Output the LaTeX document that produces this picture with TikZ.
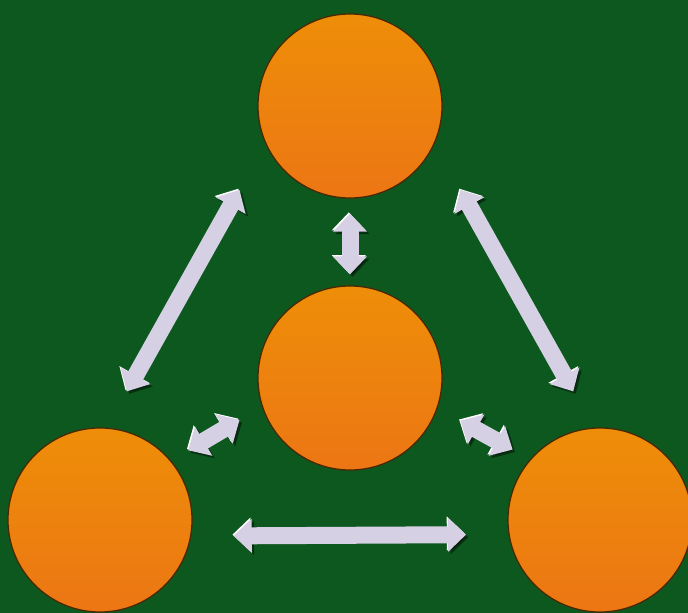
\documentclass[tikz,border=0pt]{standalone}
\usepackage{tikz}
\usetikzlibrary{
  arrows.meta % 双向粗箭头
}
\definecolor{bggreen}{RGB}{12,88,30}
\definecolor{balltop}{RGB}{238,142,8}
\definecolor{ballbot}{RGB}{236,118,20}
\definecolor{linkfill}{RGB}{214,208,228}
\tikzset{
  ball/.style={
    circle,
    minimum size=3.68cm,
    inner sep=0pt,
    top color=balltop,
    bottom color=ballbot,
    draw=orange!30!black,
    line width=0.7pt
  },
  link/.style={
    {Triangle[length=3.6mm,width=6.6mm]}-{Triangle[length=3.6mm,width=6.6mm]},
    line width=3.4mm,
    color=linkfill,
    preaction={draw=black, opacity=0.45,
      transform canvas={shift={(1.4pt,-1.4pt)}}},
    preaction={draw=white,
      transform canvas={shift={(-0.7pt,0.7pt)}}}
  }
}

\begin{document}
\begin{tikzpicture}
    \useasboundingbox (0,0) rectangle (13.76,12.26);
    % 背景
    \fill[bggreen] (0,0) rectangle (13.76,12.26);

    % --- 四个圆 ---
    \node[ball] (top) at (7.0,10.14) {};
    \node[ball] (mid) at (7.0,4.70) {};
    \node[ball] (bl)  at (2.0,1.86) {};
    \node[ball] (br)  at (12.0,1.86) {};

    % --- 双向箭头 ---
    \draw[link, shorten <=0.30cm, shorten >=0.22cm] (top) -- (mid);
    \draw[link, shorten <=1.06cm, shorten >=0.83cm] (top.204) -- (bl.86);
    \draw[link, shorten <=1.06cm, shorten >=0.83cm] (top.336) -- (br.94);
    \draw[link, shorten <=0.52cm, shorten >=0.40cm] (mid.198.5) -- (bl.40.8);
    \draw[link, shorten <=0.52cm, shorten >=0.40cm] (mid.341.5) -- (br.139.2);
    \draw[link, shorten <=0.85cm, shorten >=0.85cm] (bl.350.6) -- (br.189.4);

  \end{tikzpicture}
\end{document}
